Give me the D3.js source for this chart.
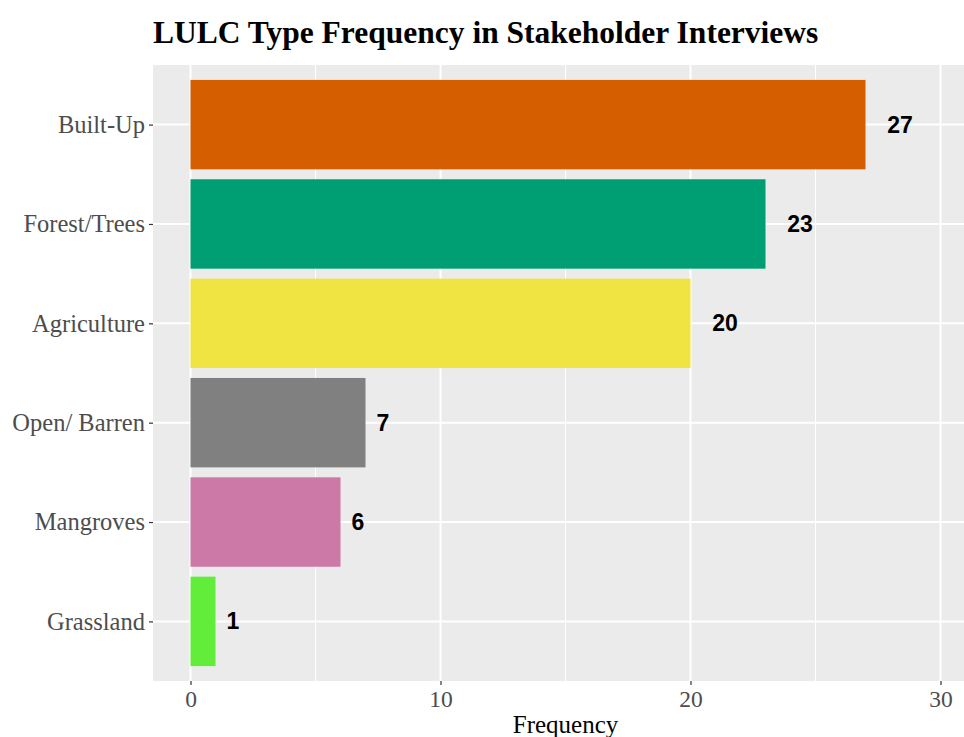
<!DOCTYPE html>
<html>
<head>
<meta charset="utf-8">
<script src="https://cdn.jsdelivr.net/npm/d3@7"></script>
<style>
  html, body { margin: 0; padding: 0; background: #ffffff; }
  svg { display: block; }
</style>
</head>
<body>
<div id="chart"></div>
<script>
// Land use / land cover types and how often each came up in interviews
const categories = ["Built-Up", "Forest/Trees", "Agriculture", "Open/ Barren", "Mangroves", "Grassland"];
const frequencies = [27, 23, 20, 7, 6, 1];
const barColors = ["#D55E00", "#009E73", "#F0E442", "#808080", "#CC79A7", "#62ED3A"];
const xTicks = [0, 10, 20, 30];
const xMinorTicks = [5, 15, 25];

const width = 964, height = 737;
const panel = { left: 153, top: 65, right: 978, bottom: 681 };

const svg = d3.select("#chart").append("svg")
  .attr("width", width).attr("height", height);

// Continuous axis padded 5% on both sides of 0..30
const x = d3.scaleLinear().domain([-1.5, 31.5]).range([panel.left, panel.right]);

// Discrete axis: category centres with 0.6 of a step beyond the outer ones
const y = d3.scalePoint().domain(categories)
  .range([panel.top, panel.bottom])
  .padding(0.6);
const barH = y.step() * 0.9;

// Panel background
svg.append("rect")
  .attr("x", panel.left).attr("y", panel.top)
  .attr("width", panel.right - panel.left).attr("height", panel.bottom - panel.top)
  .attr("fill", "#EBEBEB");

const grid = svg.append("g");
grid.selectAll("line.minor").data(xMinorTicks).join("line")
  .attr("class", "minor")
  .attr("x1", d => x(d)).attr("x2", d => x(d))
  .attr("y1", panel.top).attr("y2", panel.bottom)
  .attr("stroke", "#ffffff").attr("stroke-width", 1);
grid.selectAll("line.major").data(xTicks).join("line")
  .attr("class", "major")
  .attr("x1", d => x(d)).attr("x2", d => x(d))
  .attr("y1", panel.top).attr("y2", panel.bottom)
  .attr("stroke", "#ffffff").attr("stroke-width", 2);
grid.selectAll("line.hmajor").data(categories).join("line")
  .attr("class", "hmajor")
  .attr("x1", panel.left).attr("x2", panel.right)
  .attr("y1", d => y(d)).attr("y2", d => y(d))
  .attr("stroke", "#ffffff").attr("stroke-width", 2);

// Bars
svg.append("g").selectAll("rect").data(categories).join("rect")
  .attr("x", x(0))
  .attr("y", d => y(d) - barH / 2)
  .attr("width", (d, i) => x(frequencies[i]) - x(0))
  .attr("height", barH)
  .attr("fill", (d, i) => barColors[i]);

// Value labels, placed just under one label-width past the bar end
const labels = svg.append("g").selectAll("text").data(categories).join("text")
  .attr("y", d => y(d))
  .attr("dy", "0.35em")
  .attr("font-family", "Liberation Sans, Arial, sans-serif")
  .attr("font-weight", "bold")
  .attr("font-size", 23)
  .attr("fill", "#000000")
  .text((d, i) => frequencies[i]);
labels.each(function(d, i) {
  const w = this.getComputedTextLength();
  d3.select(this).attr("x", x(frequencies[i]) + 0.85 * w);
});

// Y axis
const yAxis = d3.axisLeft(y).tickSize(4).tickPadding(4);
const yg = svg.append("g").attr("transform", `translate(${panel.left},0)`).call(yAxis);
yg.select(".domain").remove();
yg.selectAll(".tick line").attr("stroke", "#333333").attr("stroke-width", 1.2);
yg.selectAll(".tick text")
  .attr("font-family", "Liberation Serif, Times New Roman, serif")
  .attr("font-size", 24.5).attr("fill", "#4D4D4D");

// X axis
const xAxis = d3.axisBottom(x).tickValues(xTicks).tickSize(4).tickPadding(5);
const xg = svg.append("g").attr("transform", `translate(0,${panel.bottom})`).call(xAxis);
xg.select(".domain").remove();
xg.selectAll(".tick line").attr("stroke", "#333333").attr("stroke-width", 1.2);
xg.selectAll(".tick text")
  .attr("font-family", "Liberation Serif, Times New Roman, serif")
  .attr("font-size", 23.5).attr("fill", "#4D4D4D");

// Axis title
svg.append("text")
  .attr("x", (panel.left + panel.right) / 2).attr("y", 733)
  .attr("text-anchor", "middle")
  .attr("font-family", "Liberation Serif, Times New Roman, serif")
  .attr("font-size", 25).attr("fill", "#000000")
  .text("Frequency");

// Title
svg.append("text")
  .attr("x", panel.left).attr("y", 43)
  .attr("font-family", "Liberation Serif, Times New Roman, serif")
  .attr("font-weight", "bold")
  .attr("font-size", 31.5).attr("fill", "#000000")
  .text("LULC Type Frequency in Stakeholder Interviews");
</script>
</body>
</html>
